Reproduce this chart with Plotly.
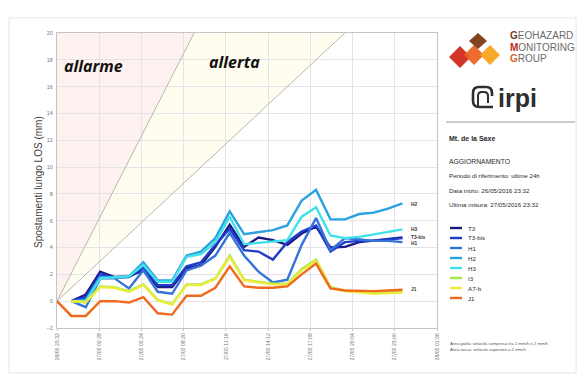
import plotly.graph_objects as go

# ---- data: hourly LOS displacement (mm), 26/05/2016 23:32 -> 27/05/2016 23:32 ----
HOURS = list(range(25))
T3 = [None, 0, 0.5, 2.2, 1.8, 1.85, 2.3, 1.05, 1.05, 2.45, 2.7, 4.05, 5.7, 4.05, 4.75, 4.55, 4.2, 5.05, 5.55, 4.0, 4.05, 4.4, 4.5, 4.6, 4.75]
T3_BIS = [None, 0, 0.3, 2.0, 1.75, 1.8, 2.5, 1.2, 1.2, 2.6, 2.9, 4.2, 5.4, 3.8, 3.7, 3.1, 4.4, 5.2, 5.65, 3.7, 4.4, 4.5, 4.5, 4.6, 4.7]
H1 = [None, 0, -0.45, 1.7, 1.7, 0.95, 2.3, 0.7, 0.55, 2.3, 2.65, 3.4, 5.1, 3.4, 2.2, 1.4, 1.6, 4.2, 6.2, 3.8, 4.7, 4.6, 4.5, 4.5, 4.4]
H2 = [None, 0, 0.1, 1.8, 1.75, 1.85, 2.9, 1.55, 1.55, 3.4, 3.7, 4.7, 6.7, 5.0, 5.15, 5.3, 5.65, 7.5, 8.3, 6.1, 6.1, 6.5, 6.6, 6.9, 7.3]
H3 = [None, 0, 0.0, 1.7, 1.75, 1.85, 2.7, 1.45, 1.45, 3.3, 3.5, 4.4, 6.3, 4.25, 4.35, 4.45, 4.55, 6.3, 7.0, 4.9, 4.7, 4.8, 5.0, 5.15, 5.35]
I3 = [None, 0, -0.1, 1.1, 1.05, 0.75, 1.25, 0.1, -0.2, 1.25, 1.25, 1.7, 3.4, 1.6, 1.45, 1.3, 1.3, 2.4, 3.1, 1.05, 0.8, 0.7, 0.6, 0.65, 0.7]
A7_B = [None, 0, -0.05, 1.05, 1.0, 0.7, 1.2, 0.05, -0.25, 1.2, 1.2, 1.65, 3.3, 1.55, 1.4, 1.25, 1.25, 2.3, 3.0, 1.0, 0.75, 0.65, 0.55, 0.6, 0.65]
J1 = [0, -1.1, -1.1, 0, 0, -0.1, 0.3, -0.9, -1.0, 0.4, 0.4, 1.0, 2.6, 1.1, 1.0, 1.0, 1.1, 2.0, 2.8, 0.95, 0.8, 0.75, 0.75, 0.8, 0.85]

SERIES = ["T3", "T3-bis", "H1", "H2", "H3", "I3", "A7-b", "J1"]
VALUES = [T3, T3_BIS, H1, H2, H3, I3, A7_B, J1]
COLORS = ["#1b1b86", "#1f3ccc", "#3572da", "#2ba2e0", "#3fe2ea", "#a6e64c", "#ecec3c", "#ee6a1e"]

# tick every 2h56m
TICK_HOURS = [0, 2.9333, 5.8667, 8.8, 11.7333, 14.6667, 17.6, 20.5333, 23.4667, 26.4]
TICK_LABELS = ["26/05 23:32", "27/05 02:28", "27/05 05:24", "27/05 08:20", "27/05 11:16",
               "27/05 14:12", "27/05 17:08", "27/05 20:04", "27/05 23:00", "28/05 01:56"]

# threshold velocities (mm/h)
ALLARME_RATE = 2.1
ALLERTA_RATE = 1.0
Y_MAX = 20

# ---- layout geometry (pixels) ----
W_FIG, H_FIG = 582, 382
L, R, T, B = 57, 437, 33, 328


def px(x):
    return (x - L) / (R - L)


def py(y):
    return (B - y) / (B - T)


fig = go.Figure()

# threshold boundary lines
for rate in (ALLARME_RATE, ALLERTA_RATE):
    fig.add_trace(go.Scatter(x=[0, Y_MAX / rate], y=[0, Y_MAX], mode="lines",
                             line=dict(color="#b8b6ac", width=1), hoverinfo="skip"))

for name, vals, col in zip(SERIES, VALUES, COLORS):
    fig.add_trace(go.Scatter(x=HOURS, y=vals, mode="lines", name=name,
                             line=dict(color=col, width=2.4)))

shapes = []
# shaded zones under the grid
t_alr = Y_MAX / ALLARME_RATE
t_alt = Y_MAX / ALLERTA_RATE
shapes.append(dict(type="path", xref="x", yref="y", layer="below", line=dict(width=0),
                   fillcolor="#fdf2f0", path=f"M 0 0 L {t_alr} {Y_MAX} L 0 {Y_MAX} Z"))
shapes.append(dict(type="path", xref="x", yref="y", layer="below", line=dict(width=0),
                   fillcolor="#fefdf0", path=f"M 0 0 L {t_alt} {Y_MAX} L {t_alr} {Y_MAX} Z"))


def diamond(cx, cy, hw, hh, color):
    p = (f"M {px(cx)} {py(cy - hh)} L {px(cx + hw)} {py(cy)} "
         f"L {px(cx)} {py(cy + hh)} L {px(cx - hw)} {py(cy)} Z")
    return dict(type="path", xref="paper", yref="paper", path=p,
                fillcolor=color, line=dict(width=0), opacity=0.95)


# Geohazard Monitoring Group mark
shapes += [
    diamond(460, 57, 11, 11, "#d22a1e"),
    diamond(474, 55, 10, 10, "#ec6424"),
    diamond(490, 55, 10, 10, "#f6a420"),
    diamond(478, 41, 9, 8, "#7a3a12"),
]


def c_mark(x0, y0, x1, y1, r, gap):
    # rounded outline open on the right-hand side
    return (f"M {px(x1)} {py(y0 + gap)} L {px(x1)} {py(y0 + r)} Q {px(x1)} {py(y0)} {px(x1 - r)} {py(y0)} "
            f"L {px(x0 + r)} {py(y0)} Q {px(x0)} {py(y0)} {px(x0)} {py(y0 + r)} "
            f"L {px(x0)} {py(y1 - r)} Q {px(x0)} {py(y1)} {px(x0 + r)} {py(y1)} L {px(x1 + 1)} {py(y1)}")


# irpi mark
shapes.append(dict(type="path", xref="paper", yref="paper", path=c_mark(473, 87, 492, 107, 6, 9),
                   line=dict(color="#2e2e2e", width=2.6)))
shapes.append(dict(type="path", xref="paper", yref="paper",
                   path=(f"M {px(478)} {py(107)} L {px(478)} {py(96)} Q {px(478)} {py(92)} {px(482)} {py(92)} "
                         f"L {px(484)} {py(92)} Q {px(488)} {py(92)} {px(488)} {py(96)} L {px(488)} {py(103)}"),
                   line=dict(color="#2e2e2e", width=2.0)))

# separator
shapes.append(dict(type="line", xref="paper", yref="paper", x0=px(446), x1=px(575),
                   y0=py(122), y1=py(122), line=dict(color="#9a9a9a", width=1)))

# legend glyphs
LEG_Y = [228, 238, 248, 258, 268, 278, 288, 298]
for yy, col in zip(LEG_Y, COLORS):
    shapes.append(dict(type="line", xref="paper", yref="paper", x0=px(450), x1=px(462),
                       y0=py(yy), y1=py(yy), line=dict(color=col, width=2.4)))

# outer frame
shapes.append(dict(type="rect", xref="paper", yref="paper", x0=px(9), x1=px(576),
                   y0=py(18), y1=py(373), line=dict(color="#e6e6e6", width=1)))

ann = []
TXT = "#2b2b2b"
FONT = "Liberation Sans, Arial, sans-serif"


def label(x, y, text, size=6.5, color=TXT, anchor="left", **kw):
    ann.append(dict(x=px(x), y=py(y), xref="paper", yref="paper", text=text, showarrow=False,
                    xanchor=anchor, yanchor="middle", font=dict(size=size, color=color, family=FONT), **kw))


ann.append(dict(x=px(62), y=py(66), xref="paper", yref="paper", text="<b><i>allarme</i></b>",
                showarrow=False, xanchor="left", yanchor="middle",
                font=dict(size=16, color="#111111", family="Open Sans, sans-serif")))
ann.append(dict(x=px(207), y=py(62), xref="paper", yref="paper", text="<b><i>allerta</i></b>",
                showarrow=False, xanchor="left", yanchor="middle",
                font=dict(size=16, color="#111111", family="Open Sans, sans-serif")))

ann.append(dict(x=px(38), y=py(182), xref="paper", yref="paper", text="Spostamenti lungo LOS (mm)",
                showarrow=False, textangle=-90, xanchor="center", yanchor="middle",
                font=dict(size=10, color="#444444", family=FONT)))

NARROW = "Liberation Sans Narrow, Arial Narrow, sans-serif"
for yy, first, rest, c in [(36, "G", "EOHAZARD", "#7a3a12"), (47, "M", "ONITORING", "#c0281c"),
                           (58, "G", "ROUP", "#e0601e")]:
    ann.append(dict(x=px(508), y=py(yy), xref="paper", yref="paper",
                    text=f"<span style='color:{c}'><b>{first}</b></span>{rest}", showarrow=False,
                    xanchor="left", yanchor="middle", font=dict(size=10, color="#6b6b6b", family=NARROW)))

ann.append(dict(x=px(496), y=py(98), xref="paper", yref="paper", text="<b>irpi</b>", showarrow=False,
                xanchor="left", yanchor="middle", font=dict(size=25, color="#2e2e2e", family=FONT)))

label(447, 138, "<b>Mt. de la Saxe</b>", size=7)
label(447, 161, "AGGIORNAMENTO", size=6.8)
label(447, 175, "Periodo di riferimento: ultime 24h", size=6.2)
label(447, 190, "Data inizio: 26/05/2016 23:32", size=6.2)
label(447, 204, "Ultima misura: 27/05/2016 23:32", size=6.2)
for yy, name in zip(LEG_Y, SERIES):
    label(466, yy, name, size=6.2)

label(448, 343, "Area gialla: velocità compresa tra 1 mm/h e 2 mm/h", size=4.3, color="#555555")
label(448, 349, "Area rossa: velocità superiore a 2 mm/h", size=4.3, color="#555555")

# end-of-line tags
for text, yval, ys in [("H2", H2[-1], -1), ("H3", H3[-1], 0), ("T3-bis", T3_BIS[-1], 1),
                       ("H1", H1[-1], -1), ("J1", J1[-1], 0)]:
    ann.append(dict(x=HOURS[-1], y=yval, xref="x", yref="y", text=f"<b>{text}</b>", showarrow=False,
                    xanchor="left", yanchor="middle", xshift=7, yshift=ys,
                    font=dict(size=4.8, color="#333333", family=FONT)))

fig.update_layout(
    width=W_FIG, height=H_FIG,
    margin=dict(l=L, r=W_FIG - R, t=T, b=H_FIG - B),
    paper_bgcolor="white", plot_bgcolor="white",
    showlegend=False, shapes=shapes, annotations=ann,
    font=dict(family=FONT),
)
fig.update_xaxes(range=[0, 26.4], tickmode="array", tickvals=TICK_HOURS, ticktext=TICK_LABELS,
                 tickangle=-90, tickfont=dict(size=5.2, color="#777777"),
                 showgrid=True, gridcolor="#e4e4e8", gridwidth=1, zeroline=False,
                 showline=True, linecolor="#c4c4c4", mirror=True, ticks="outside", ticklen=2,
                 tickcolor="#c4c4c4")
fig.update_yaxes(range=[-2, 20], dtick=2, tickfont=dict(size=5.5, color="#777777"),
                 showgrid=True, gridcolor="#e4e4e8", gridwidth=1, zeroline=False,
                 showline=True, linecolor="#c4c4c4", mirror=True, ticks="", ticklabelstandoff=2)

fig.write_html("out.html")
